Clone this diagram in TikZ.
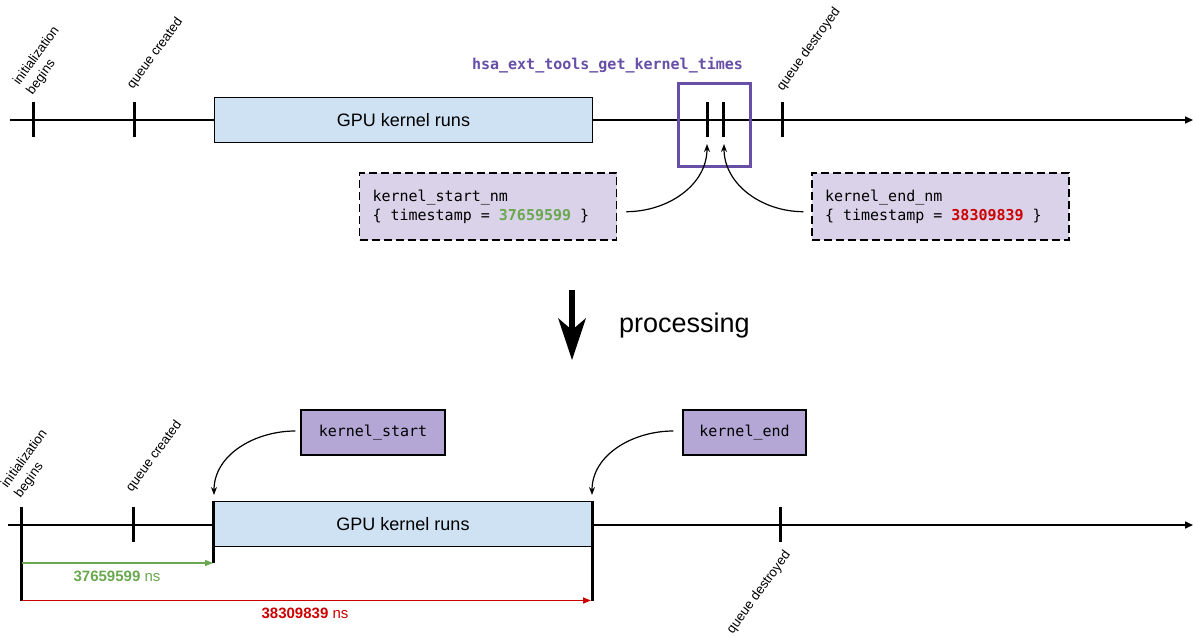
\documentclass[tikz,border=0pt]{standalone}
\usepackage{fontspec}
\setmainfont{Liberation Sans}
\setmonofont{DejaVu Sans Mono}
\usetikzlibrary{arrows.meta}
\definecolor{gpublue}{HTML}{CFE2F3}
\definecolor{lilac}{HTML}{D9D2E9}
\definecolor{lilacdark}{HTML}{B4A7D6}
\definecolor{purp}{HTML}{674EA7}
\definecolor{grn}{HTML}{6AA84F}
\definecolor{rd}{HTML}{CC0000}
\newcommand\tsp{\hspace*{0.602em}}
\begin{document}
\begin{tikzpicture}[x=1pt,y=-1pt,
  timeline/.style={line width=1.5pt,-{Triangle[length=8pt,width=7pt]}},
  tick/.style={line width=3pt},
  gpubox/.style={draw,line width=1.5pt,fill=gpublue,minimum width=378pt,minimum height=45pt,inner sep=0pt,font=\fontsize{18}{20}\selectfont},
  dashbox/.style={draw,line width=1.5pt,dash pattern=on 8pt off 4pt,fill=lilac,minimum height=67pt,text width=231pt,inner xsep=13pt,align=left,font=\ttfamily\fontsize{15}{18.5}\selectfont},
  kbox/.style={draw,line width=1.2pt,fill=lilacdark,minimum height=45pt,inner sep=0pt,font=\ttfamily\fontsize{15}{18}\selectfont},
  evlabel/.style={rotate=54,inner sep=0pt,font=\fontsize{13.2}{16.5}\selectfont,align=left},
  curve/.style={line width=1.2pt,-{Stealth[length=8pt,width=6pt]}},
  meas/.style={line width=1.5pt,-{Triangle[length=8pt,width=6pt]}},
  numlab/.style={inner sep=0pt,font=\fontsize{15}{17}\selectfont}
]
\useasboundingbox (0,0) rectangle (1193,636);

% ---------- top timeline ----------
\coordinate (t0) at (10,120);
\coordinate (t1) at (1193,120);
\draw[timeline] (t0) -- (t1);
\draw[tick] (33,102) -- (33,137);
\draw[tick] (134,102) -- (134,137);
\draw[tick] (707,102) -- (707,137);
\draw[tick] (723,102) -- (723,137);
\draw[tick] (782,102) -- (782,137);

\node[evlabel,anchor=south west] (initT) at (35,97) {initialization\\begins};
\node[evlabel,anchor=south west] (qcT) at (135.5,91.5) {queue created};
\node[evlabel,anchor=south west] (qdT) at (785,93) {queue destroyed};

\node[gpubox] (gpuT) at (403.5,120) {GPU kernel runs};

\node[draw=purp,line width=3pt,minimum width=72pt,minimum height=83pt,inner sep=0pt] (hsabox) at (714,125) {};
\node[text=purp,font=\ttfamily\bfseries\fontsize{15}{17}\selectfont] (hsalab) at (607.5,65) {hsa\_ext\_tools\_get\_kernel\_times};

\node[dashbox] (startnm) at (488,206.7) {kernel\_start\_nm\\\{\tsp timestamp\tsp=\tsp\textcolor{grn}{\bfseries 37659599}\tsp\}};
\node[dashbox] (endnm) at (940.5,206.7) {kernel\_end\_nm\\\{\tsp timestamp\tsp=\tsp\textcolor{rd}{\bfseries 38309839}\tsp\}};

\coordinate (tipS) at (707,144);
\coordinate (tipE) at (724,144);
\draw[curve] ([xshift=9pt,yshift=-5pt]startnm.east) to[out=0,in=-90] (tipS);
\draw[curve] ([xshift=-8pt,yshift=-5pt]endnm.west) to[out=180,in=-90] (tipE);

% ---------- processing ----------
\coordinate (pa) at (572,290);
\coordinate (pb) at (572,334);
\draw[line width=6pt] (pa) -- (pb);
\fill (558,318) -- (572,360) -- (586,318) -- (572,330) -- cycle;
\node[anchor=west,inner sep=0pt,font=\fontsize{27}{30}\selectfont] (proc) at (619,326) {processing};

% ---------- bottom timeline ----------
\coordinate (b0) at (8,525);
\coordinate (b1) at (1193,525);
\draw[timeline] (b0) -- (b1);
\node[gpubox] (gpuB) at (403,524.2) {GPU kernel runs};
\draw[tick] (21,507) -- (21,601);
\draw[tick] (133.5,507) -- (133.5,542);
\draw[tick] (780,507) -- (780,542);
\draw[tick] (gpuB.north west) -- ++(0,62);
\draw[tick] (gpuB.north east) -- ++(0,100);

\node[evlabel,anchor=south west] (initB) at (23,500) {initialization\\begins};
\node[evlabel,anchor=south west] (qcB) at (134.5,494.5) {queue created};
\node[evlabel,anchor=north east] (qdB) at (783,549) {queue destroyed};

\node[kbox,minimum width=144pt] (kstart) at (373,432.5) {kernel\_start};
\node[kbox,minimum width=123pt] (kend) at (744.5,432.5) {kernel\_end};

\coordinate (ktipS) at (214,495);
\coordinate (ktipE) at (592,495);
\draw[curve] ([xshift=-5pt,yshift=1.5pt]kstart.west) to[out=180,in=90] (ktipS);
\draw[curve] ([xshift=-9pt,yshift=1.5pt]kend.west) to[out=180,in=90] (ktipE);

\coordinate (g0) at (22,563);
\coordinate (g1) at (213,563);
\draw[meas,draw=grn,fill=grn] (g0) -- (g1);
\node[numlab,text=grn] (glab) at (117,576) {\textbf{37659599} ns};

\coordinate (r0) at (22,600.5);
\coordinate (r1) at (591,600.5);
\draw[meas,draw=rd,fill=rd] (r0) -- (r1);
\node[numlab,text=rd] (rlab) at (305,613) {\textbf{38309839} ns};
\end{tikzpicture}
\end{document}
